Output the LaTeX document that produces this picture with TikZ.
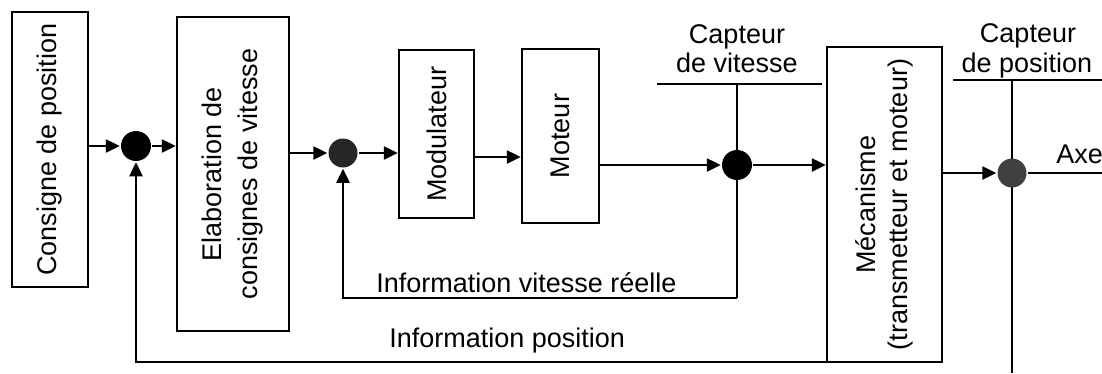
\documentclass[tikz,border=0pt]{standalone}
\usepackage{fontspec}
\setmainfont{Liberation Sans}
\usetikzlibrary{arrows.meta}
\begin{document}
\begin{tikzpicture}[x=1pt,y=-1pt,
  line width=2.5pt,
  arr/.style={-{Triangle[length=14pt,width=13pt]}},
  blk/.style={draw, line width=2.5pt, inner sep=0pt},
  lbl/.style={font=\fontsize{27}{32}\selectfont, inner sep=0pt},
  vlbl/.style={lbl, rotate=90, align=center},
  sumb/.style={circle, inner sep=0pt, draw=none, fill=black}]
\path[use as bounding box] (0,0) rectangle (1102,373);

% coordinates
\coordinate (cvl) at (657,84);
\coordinate (cvr) at (822,84);
\coordinate (cvtop) at (737,84);
\coordinate (cvbot) at (737,298);
\coordinate (cpl) at (953,80);
\coordinate (cpr) at (1102,80);
\coordinate (cptop) at (1012,80);
\coordinate (cpbot) at (1012,373);
\coordinate (axeend) at (1102,173);
\coordinate (fb) at (842,362);
\coordinate (m1) at (0,157);

% sensor lines (drawn below the junctions)
\draw (cvl) -- (cvr);
\draw (cvtop) -- (cvbot);
\draw (cpl) -- (cpr);
\draw (cptop) -- (cpbot);

% blocks
\node[blk, minimum width=76pt, minimum height=275pt] (b1) at (50,149.5) {};
\node[vlbl] (t1) at (b1) {Consigne de position};
\node[blk, minimum width=112pt, minimum height=314pt] (b2) at (233,174) {};
\node[vlbl, font=\fontsize{27}{36}\selectfont] (t2) at (b2) {Elaboration de\\consignes de vitesse};
\node[blk, minimum width=75pt, minimum height=168pt] (b3) at (436.5,134) {};
\node[vlbl] (t3) at (b3) {Modulateur};
\node[blk, minimum width=77pt, minimum height=174pt] (b4) at (560.5,136) {};
\node[vlbl] (t4) at (b4) {Moteur};
\node[blk, minimum width=115pt, minimum height=315pt] (b5) at (884.5,204.5) {};
\node[vlbl] (t5) at (b5) {Mécanisme\\(transmetteur et moteur)};

% junctions
\node[sumb, minimum size=30pt] (j1) at (136,146) {};
\node[sumb, minimum size=29pt, fill=black!85] (j2) at (343,153) {};
\node[sumb, minimum size=30pt] (j3) at (737,165) {};
\node[sumb, minimum size=29pt, fill=black!75] (j4) at (1012,173) {};

% forward path
\draw[arr] (b1.east |- j1) -- (j1);
\draw[arr] (j1) -- (b2.west |- j1);
\draw[arr] (b2.east |- j2) -- (j2);
\draw[arr] (j2) -- (b3.west |- j2);
\draw[arr] (b3.east |- m1) -- (b4.west |- m1);
\draw[arr] (b4.east |- j3) -- (j3);
\draw[arr] (j3) -- (b5.west |- j3);
\draw[arr] (b5.east |- j4) -- (j4);
\draw (j4) -- (axeend);

% feedback paths
\draw[arr] (cvbot) -| (j2);
\draw[arr] (fb) -| (j1);

% labels
\node[lbl, anchor=base] (cv1) at (737,43) {Capteur};
\node[lbl, anchor=base] (cv2) at (737,72) {de vitesse};
\node[lbl, anchor=base] (cp1) at (1028,42) {Capteur};
\node[lbl, anchor=base] (cp2) at (1027,72) {de position};
\node[lbl, anchor=base west] (axe) at (1055,163) {Axe};
\node[lbl, anchor=base west] (iv) at (375,292) {Information vitesse réelle};
\node[lbl, anchor=base west] (ip) at (388,347) {Information position};
\end{tikzpicture}
\end{document}
